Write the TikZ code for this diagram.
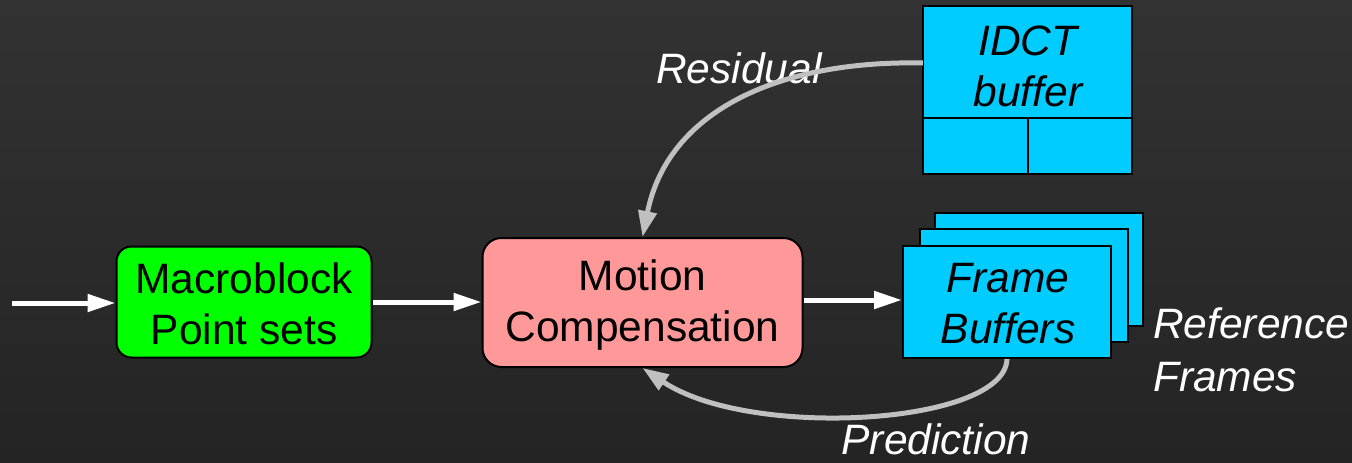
\documentclass[tikz,border=0pt]{standalone}
\usepackage{fontspec}
\setmainfont{Liberation Sans}
\usetikzlibrary{arrows.meta}
\definecolor{bgtop}{HTML}{323232}
\definecolor{bgbot}{HTML}{242424}
\definecolor{mbgreen}{HTML}{00FF00}
\definecolor{mcpink}{HTML}{FF9999}
\definecolor{bufcyan}{HTML}{00CCFF}
\definecolor{arrgray}{HTML}{C0C0C0}
\tikzset{
  txt/.style={font=\fontsize{42.5}{51}\selectfont, align=center, text=black},
  wtxt/.style={font=\fontsize{42.5}{51}\selectfont\itshape, text=white},
  boxbase/.style={draw=black, line width=2pt, inner sep=0pt, txt},
  rbox/.style={boxbase, rounded corners=#1},
  sbox/.style={boxbase, fill=bufcyan},
  flow/.style={draw=white, line width=5pt, -{Triangle[length=28pt,width=17pt]}},
  loop/.style={draw=arrgray, line width=5pt, -{Triangle[length=26pt,width=18pt]}}
}
\begin{document}
\begin{tikzpicture}[x=1pt,y=-1pt]
\shade[top color=bgtop, bottom color=bgbot] (0,0) rectangle (1352,463);
\useasboundingbox (0,0) rectangle (1352,463);

% boxes
\node[rbox=15pt, fill=mbgreen, minimum width=255pt, minimum height=111pt] (mb) at (244,302) {};
\node[txt] (mbtxt) at (244,304) {Macroblock\\Point sets};
\node[rbox=19pt, fill=mcpink, minimum width=320pt, minimum height=129pt] (mc) at (642.5,302.5) {};
\node[txt] (mctxt) at (642.5,305) {Motion\\Compensation};

% frame buffers stack
\node[sbox, minimum width=208pt, minimum height=113pt] (fb3) at (1039,269.5) {};
\node[sbox, minimum width=208pt, minimum height=113pt] (fb2) at (1023.5,285.5) {};
\node[sbox, minimum width=208pt, minimum height=112pt] (fb) at (1007,302) {};
\node[txt, font=\fontsize{42.5}{51}\selectfont\itshape] (fbtxt) at (1008,304) {Frame\\Buffers};

% IDCT buffer
\node[sbox, minimum width=209pt, minimum height=168pt] (idct) at (1027.5,90) {};
\draw[line width=2pt] (idct.west |- 0,118) coordinate (dl) -- (idct.east |- 0,118) coordinate (dr);
\draw[line width=2pt] (idct.south |- 0,118) coordinate (dm) -- (idct.south);
\node[txt, font=\fontsize{42.5}{51}\selectfont\itshape] (idcttxt) at (1028,66) {IDCT\\buffer};

% labels
\node[wtxt, anchor=west, inner sep=0pt] (res) at (656,68) {Residual};
\node[wtxt, anchor=west, inner sep=0pt] (ref1) at (1153,323) {Reference};
\node[wtxt, anchor=west, inner sep=0pt] (ref2) at (1153,377) {Frames};
\node[wtxt, inner sep=0pt] (pred) at (936,439) {Prediction};

% connectors
\coordinate (in) at (12,303);
\draw[flow] (in) -- (mb.west |- in);
\draw[flow] (mb.east |- 0,302) -- (mc.west |- 0,302);
\draw[flow] (mc.east |- 0,300) -- (fb.west |- 0,300);

\coordinate (rs) at (923,63);
\draw[loop] (rs) .. controls (780,60) and (668,110) .. (mc.north);
\draw[loop] (fb.south) .. controls (1005,425) and (750,440) .. (mc.south);
\end{tikzpicture}
\end{document}
